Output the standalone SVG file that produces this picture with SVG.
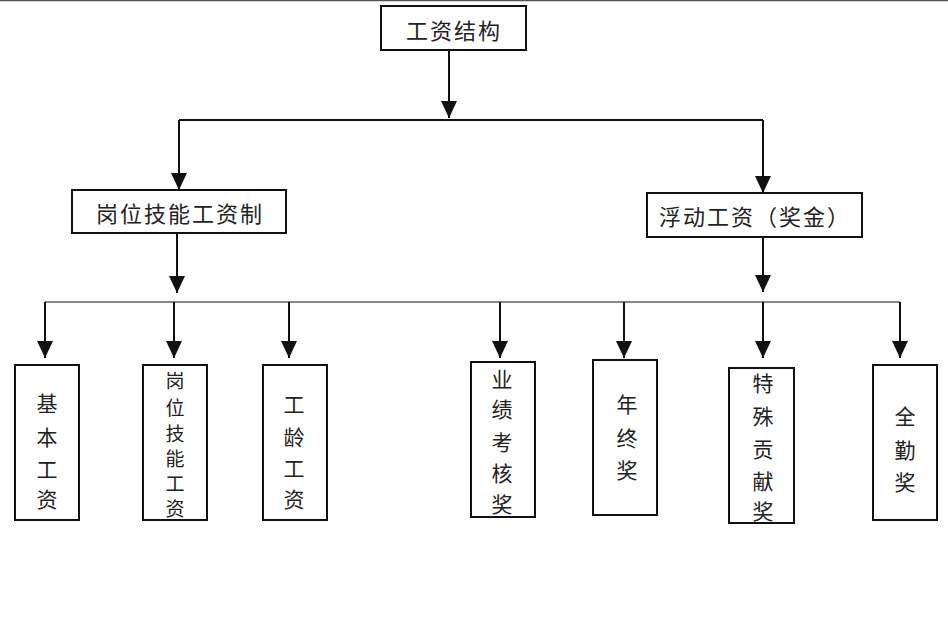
<svg xmlns="http://www.w3.org/2000/svg" width="948" height="618" viewBox="0 0 948 618">
<style>
.box{fill:#fff;stroke:#111;stroke-width:2}
.ln{stroke:#111;stroke-width:2;fill:none}
.gl{stroke:#888;stroke-width:2;fill:none}
.ah{fill:#111}
text{font-family:"Noto Sans CJK SC","Noto Sans",sans-serif;fill:#222;text-anchor:middle;dominant-baseline:central}
.h{font-size:22px;letter-spacing:2px}
.v{font-size:21px}
.s{font-size:19px}
</style>
<rect x="0" y="0" width="948" height="618" fill="#fff"/>
<line x1="0" y1="0.5" x2="948" y2="0.5" stroke="#555" stroke-width="1.5"/>
<g id="connectors">
<path class="ln" d="M449,50 V118"/>
<polygon class="ah" points="441,101 457,101 449,118"/>
<path class="ln" d="M179,120 H763"/>
<path class="ln" d="M179,120 V190"/>
<polygon class="ah" points="171,173 187,173 179,190"/>
<path class="ln" d="M763,120 V193"/>
<polygon class="ah" points="755,176 771,176 763,193"/>
<path class="ln" d="M177,233 V293"/>
<polygon class="ah" points="169,276 185,276 177,293"/>
<path class="ln" d="M763,237 V292"/>
<polygon class="ah" points="755,275 771,275 763,292"/>
<path class="gl" d="M45,302 H900"/>
<path class="ln" d="M45,302 V358"/>
<polygon class="ah" points="37,341 53,341 45,358"/>
<path class="ln" d="M174,302 V358"/>
<polygon class="ah" points="166,341 182,341 174,358"/>
<path class="ln" d="M289,302 V358"/>
<polygon class="ah" points="281,341 297,341 289,358"/>
<path class="ln" d="M500,302 V358"/>
<polygon class="ah" points="492,341 508,341 500,358"/>
<path class="ln" d="M624,302 V358"/>
<polygon class="ah" points="616,341 632,341 624,358"/>
<path class="ln" d="M763,302 V358"/>
<polygon class="ah" points="755,341 771,341 763,358"/>
<path class="ln" d="M900,302 V358"/>
<polygon class="ah" points="892,341 908,341 900,358"/>
</g>
<g id="n-root">
<rect class="box" x="381" y="6" width="145" height="44"/>
<text class="h" x="454" y="29">工资结构</text>
</g>
<g id="n-gangwei">
<rect class="box" x="72" y="190" width="214" height="43"/>
<text class="h" x="180" y="212">岗位技能工资制</text>
</g>
<g id="n-fudong">
<rect class="box" x="647" y="193" width="215" height="44"/>
<text class="h" x="755" y="215">浮动工资（奖金）</text>
</g>
<g id="n-jiben">
<rect class="box" x="15" y="365" width="64" height="155"/>
<text class="v" x="47" y="402">基</text>
<text class="v" x="47" y="436">本</text>
<text class="v" x="47" y="468">工</text>
<text class="v" x="47" y="498">资</text>
</g>
<g id="n-gangweijineng">
<rect class="box" x="143" y="365" width="64" height="155"/>
<text class="s" x="175" y="379">岗</text>
<text class="s" x="175" y="406">位</text>
<text class="s" x="175" y="432">技</text>
<text class="s" x="175" y="457">能</text>
<text class="s" x="175" y="482">工</text>
<text class="s" x="175" y="507">资</text>
</g>
<g id="n-gongling">
<rect class="box" x="263" y="365" width="64" height="155"/>
<text class="v" x="294" y="403">工</text>
<text class="v" x="294" y="436">龄</text>
<text class="v" x="294" y="467">工</text>
<text class="v" x="294" y="498">资</text>
</g>
<g id="n-yeji">
<rect class="box" x="471" y="362" width="64" height="155"/>
<text class="v" x="502" y="378">业</text>
<text class="v" x="502" y="408">绩</text>
<text class="v" x="502" y="441">考</text>
<text class="v" x="502" y="472">核</text>
<text class="v" x="502" y="503">奖</text>
</g>
<g id="n-nianzhong">
<rect class="box" x="593" y="360" width="64" height="155"/>
<text class="v" x="627" y="403">年</text>
<text class="v" x="627" y="437">终</text>
<text class="v" x="627" y="469">奖</text>
</g>
<g id="n-teshu">
<rect class="box" x="729" y="368" width="65" height="155"/>
<text class="v" x="763" y="382">特</text>
<text class="v" x="763" y="415">殊</text>
<text class="v" x="763" y="448">贡</text>
<text class="v" x="763" y="480">献</text>
<text class="v" x="763" y="510">奖</text>
</g>
<g id="n-quanqin">
<rect class="box" x="873" y="365" width="64" height="155"/>
<text class="v" x="905" y="415">全</text>
<text class="v" x="905" y="449">勤</text>
<text class="v" x="905" y="481">奖</text>
</g>
</svg>
